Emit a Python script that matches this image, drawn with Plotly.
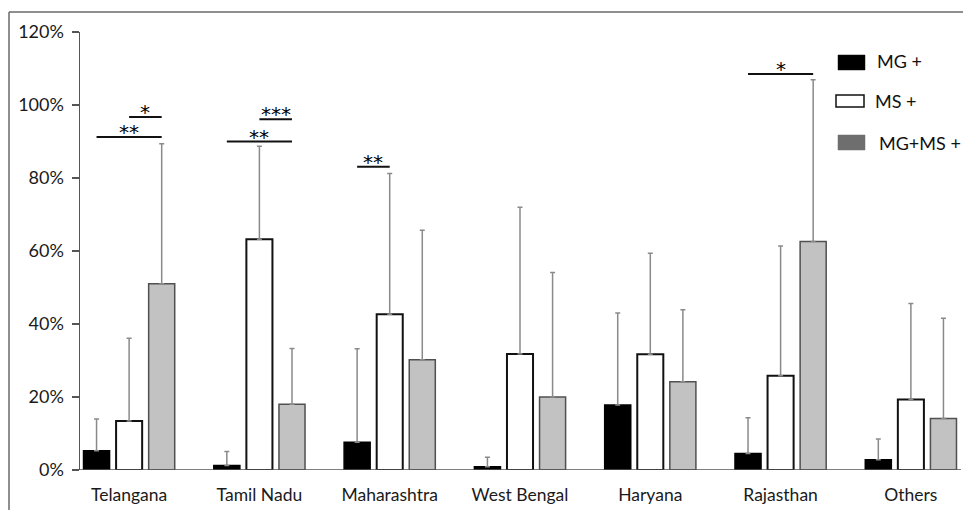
import plotly.graph_objects as go

categories = ["Telangana", "Tamil Nadu", "Maharashtra", "West Bengal", "Haryana", "Rajasthan", "Others"]
series_names = ["MG +", "MS +", "MG+MS +"]
mg_vals = [0.053, 0.012, 0.076, 0.009, 0.178, 0.045, 0.028]
mg_upper = [0.140, 0.051, 0.332, 0.035, 0.430, 0.143, 0.085]
ms_vals = [0.134, 0.632, 0.427, 0.318, 0.317, 0.258, 0.193]
ms_upper = [0.361, 0.887, 0.812, 0.720, 0.594, 0.614, 0.456]
mgms_vals = [0.510, 0.180, 0.302, 0.200, 0.242, 0.626, 0.141]
mgms_upper = [0.894, 0.333, 0.657, 0.541, 0.439, 1.069, 0.416]
y_ticks = [0, 0.2, 0.4, 0.6, 0.8, 1.0, 1.2]

# significance brackets: (category index, from series, to series, level, label)
brackets = [
    (0, 0, 2, 0.912, "**"),
    (0, 1, 2, 0.967, "*"),
    (1, 0, 2, 0.900, "**"),
    (1, 1, 2, 0.961, "***"),
    (2, 0, 1, 0.831, "**"),
    (5, 0, 2, 1.085, "*"),
]

FONT = "Lato, 'Noto Sans', sans-serif"
fills = ["#000000", "#ffffff", "#c2c2c2"]
outlines = ["#000000", "#111111", "#505050"]
outline_w = [1.5, 2, 1.5]
swatch = ["#000000", "#ffffff", "#6e6e6e"]

vals = [mg_vals, ms_vals, mgms_vals]
uppers = [mg_upper, ms_upper, mgms_upper]

fig = go.Figure()
xs = list(range(len(categories)))
for i, name in enumerate(series_names):
    plus = [u - v for u, v in zip(uppers[i], vals[i])]
    fig.add_trace(go.Bar(
        x=xs, y=vals[i], name=name,
        marker=dict(color=fills[i], line=dict(color=outlines[i], width=outline_w[i])),
        error_y=dict(type="data", symmetric=False, array=plus, arrayminus=[0]*len(plus),
                     color="#8a8a8a", thickness=1.5, width=2.5),
        showlegend=False, hoverinfo="skip",
    ))

offsets = [-0.25, 0.0, 0.25]
for ci, s0, s1, lvl, lab in brackets:
    x0 = ci + offsets[s0]
    x1 = ci + offsets[s1]
    fig.add_shape(type="line", xref="x", yref="y", x0=x0, x1=x1, y0=lvl, y1=lvl,
                  line=dict(color="#111111", width=2))
    fig.add_annotation(x=(x0 + x1) / 2, y=lvl, xref="x", yref="y", text=lab,
                       showarrow=False, yanchor="bottom", yshift=-9,
                       font=dict(family="DejaVu Sans", size=20, color="#000000"))

# manual legend
W, H = 883.0, 438.0
def px(x):
    return (x - 80) / W
def py(y):
    return (470 - y) / H

leg = [(838, 865, 55, 70, 875, 61), (836, 864, 95, 107, 873, 101), (838, 865, 135, 150, 877, 143)]
for i, (xa, xb, ya, yb, tx, ty) in enumerate(leg):
    fig.add_shape(type="rect", xref="paper", yref="paper", x0=px(xa), x1=px(xb), y0=py(yb), y1=py(ya),
                  fillcolor=swatch[i], line=dict(color="#111111" if i < 2 else swatch[i], width=1.5 if i == 1 else 0.5))
    fig.add_annotation(xref="paper", yref="paper", x=px(tx), y=py(ty), text=series_names[i],
                       showarrow=False, xanchor="left", yanchor="middle",
                       font=dict(family=FONT, size=18, color="#111111"))

# x axis baseline (extends slightly left of y axis)
fig.add_shape(type="line", xref="paper", yref="y", x0=px(74), x1=px(961), y0=0, y1=0,
              line=dict(color="#555555", width=1.5))
# outer frame (left and top edges)
fig.add_shape(type="line", xref="paper", yref="paper", x0=px(9), x1=px(9), y0=py(12), y1=py(520),
              line=dict(color="#6a6a6a", width=1.5))
fig.add_shape(type="line", xref="paper", yref="paper", x0=px(9), x1=px(970), y0=py(12), y1=py(12),
              line=dict(color="#6a6a6a", width=1.5))

fig.update_layout(
    width=963, height=510,
    margin=dict(l=80, r=0, t=32, b=40),
    paper_bgcolor="white", plot_bgcolor="white",
    barmode="group", bargap=0.25, bargroupgap=0.2,
    font=dict(family=FONT, size=17, color="#222222"),
    hovermode=False,
)
fig.update_xaxes(
    tickmode="array", tickvals=xs, ticktext=categories,
    range=[-0.377, 6.40], showline=False, showgrid=False, zeroline=False,
    ticks="", ticklabelstandoff=12, tickfont=dict(family=FONT, size=17.5, color="#1a1a1a"),
)
fig.update_yaxes(
    range=[0, 1.2], tickvals=y_ticks, tickformat=".0%",
    showline=True, linecolor="#555555", linewidth=1.5,
    ticks="outside", ticklen=7, tickcolor="#555555", tickwidth=1.5,
    ticklabelstandoff=4,
    showgrid=False, zeroline=False,
    tickfont=dict(family=FONT, size=18, color="#1a1a1a"),
)

fig.write_html("out.html", config={"displayModeBar": False, "staticPlot": True},
               post_script="document.body.style.margin='0';document.body.style.overflow='hidden';")
